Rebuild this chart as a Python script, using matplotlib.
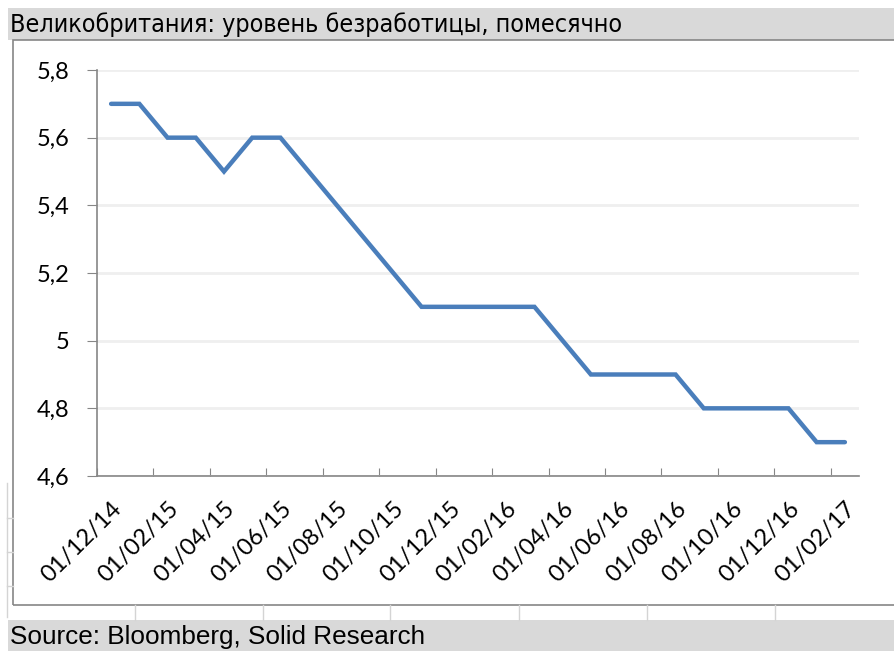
import numpy as np
import matplotlib.pyplot as plt
from matplotlib.patches import Rectangle
from matplotlib.lines import Line2D

# monthly data, Dec 2014 .. Feb 2017
dates = ["01/12/14", "01/01/15", "01/02/15", "01/03/15", "01/04/15", "01/05/15",
         "01/06/15", "01/07/15", "01/08/15", "01/09/15", "01/10/15", "01/11/15",
         "01/12/15", "01/01/16", "01/02/16", "01/03/16", "01/04/16", "01/05/16",
         "01/06/16", "01/07/16", "01/08/16", "01/09/16", "01/10/16", "01/11/16",
         "01/12/16", "01/01/17", "01/02/17"]
unemployment = [5.7, 5.7, 5.6, 5.6, 5.5, 5.6, 5.6, 5.5, 5.4, 5.3, 5.2, 5.1,
                5.1, 5.1, 5.1, 5.1, 5.0, 4.9, 4.9, 4.9, 4.9, 4.8, 4.8, 4.8,
                4.8, 4.7, 4.7]
y_ticks = [4.6, 4.8, 5.0, 5.2, 5.4, 5.6, 5.8]
y_labels = ["4,6", "4,8", "5", "5,2", "5,4", "5,6", "5,8"]

title = "Великобритания: уровень безработицы, помесячно"
source = "Source: Bloomberg, Solid Research"

W, H = 894, 651
fig = plt.figure(figsize=(W / 100, H / 100), dpi=100)

def fx(px):
    return px / W

def fy(py):
    return 1 - py / H

# header / footer bars
fig.patches.append(Rectangle((fx(8), fy(40)), fx(886), 32 / H, transform=fig.transFigure,
                             facecolor="#d9d9d9", edgecolor="none", zorder=0))
fig.patches.append(Rectangle((fx(8), fy(651)), fx(886), 31 / H, transform=fig.transFigure,
                             facecolor="#d9d9d9", edgecolor="none", zorder=0))

# spreadsheet cell lines peeking out behind the chart
for px in [135, 263, 390, 519, 647, 775]:
    fig.lines.append(Line2D([fx(px), fx(px)], [fy(605), fy(620)], transform=fig.transFigure,
                            color="#d4d4d4", lw=1))
fig.lines.append(Line2D([fx(7), fx(7)], [fy(483), fy(617)], transform=fig.transFigure,
                        color="#d4d4d4", lw=1))
for py in [518, 552, 586]:
    fig.lines.append(Line2D([fx(7), fx(13)], [fy(py), fy(py)], transform=fig.transFigure,
                            color="#d4d4d4", lw=1))

# chart frame
fig.patches.append(Rectangle((fx(13), fy(605)), fx(900), 565 / H, transform=fig.transFigure,
                             facecolor="none", edgecolor="#868686", lw=1.2, zorder=1))

fig.text(fx(10), fy(25), title, fontsize=18, family="DejaVu Sans", fontstretch="condensed",
         va="center", ha="left")
fig.text(fx(10), fy(637), source, fontsize=18.8, family="Liberation Sans",
         va="center", ha="left")

ax = fig.add_axes([fx(97), fy(476), fx(859 - 97), (476 - 70) / H])
x = np.arange(len(dates))
ax.plot(x, unemployment, color="#4a7ebb", lw=3.2, solid_capstyle="round",
        solid_joinstyle="miter", zorder=3)

ax.set_xlim(-0.5, len(dates) - 0.5)
ax.set_ylim(4.6, 5.8)
ax.set_yticks(y_ticks)
ax.set_yticklabels(y_labels, fontsize=17, family="Lato")
ax.grid(axis="y", color="#efefef", lw=2)
ax.set_axisbelow(True)

# ticks between categories, labels on every second category
ax.set_xticks(np.arange(-0.5, len(dates), 2))
ax.set_xticklabels([])
ax.set_xticks(x[::2], minor=True)
ax.set_xticklabels(dates[::2], minor=True, rotation=45, ha="right",
                   rotation_mode="anchor", fontsize=17, family="Lato")
ax.tick_params(axis="x", which="minor", length=0, pad=16)
ax.tick_params(axis="x", which="major", length=6, direction="in", color="#868686")
ax.tick_params(axis="y", length=7, color="#868686", pad=13)

for s in ["top", "right"]:
    ax.spines[s].set_visible(False)
for s in ["left", "bottom"]:
    ax.spines[s].set_color("#868686")
    ax.spines[s].set_linewidth(1.2)

fig.savefig("out.png", dpi=100)
